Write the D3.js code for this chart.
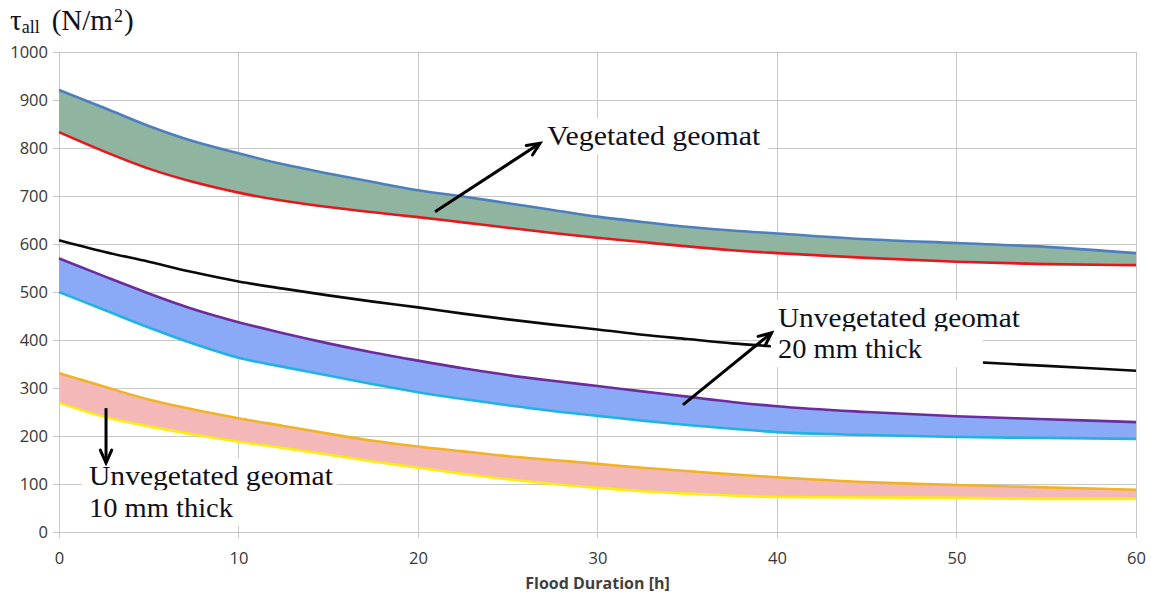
<!DOCTYPE html>
<html>
<head>
<meta charset="utf-8">
<script src="https://cdn.jsdelivr.net/npm/d3@7"></script>
<style>
	body{margin:0;background:#fff;}
	.tick-text{font-family:"Open Sans",sans-serif;font-size:16.5px;fill:#363636;}
	.axis-title{font-family:"Open Sans",sans-serif;font-size:16px;font-weight:bold;fill:#404040;}
	.note{font-family:"Liberation Serif","DejaVu Serif",serif;font-size:27px;fill:#10101a;}
	.grid{stroke:#c8c8c8;stroke-width:1;shape-rendering:crispEdges;}
</style>
</head>
<body>
<svg id="chart" width="1151" height="597"></svg>
<script>
// flood duration [h]
var hours = [0, 2.5, 5, 7.5, 10, 12.5, 15, 17.5, 20, 22.5, 25, 27.5, 30, 32.5, 35, 37.5, 40, 45, 50, 55, 60];

// vegetated geomat band
var vegUpper = [921, 884, 846, 814, 789, 766, 747, 729, 712, 699, 685, 671, 657, 646, 636, 628, 622, 610, 602, 594, 581];
var vegLower = [833, 793, 757, 729, 707, 690, 677, 666, 656, 645, 634, 623, 613, 604, 595, 587, 581, 571, 563, 558, 556];

// single black curve
var blackLine = [608, 584, 563, 541, 522, 507, 493, 480, 468, 455, 443, 432, 422, 411, 402, 393, 386, 368, 356, 346, 336];

// unvegetated geomat 20 mm band
var unveg20Upper = [570, 533, 497, 464, 437, 414, 393, 374, 357, 341, 327, 315, 304, 293, 282, 271, 262, 250, 241, 235, 229];
var unveg20Lower = [500, 463, 426, 392, 363, 344, 326, 308, 291, 277, 264, 252, 242, 232, 223, 215, 208, 202, 198, 196, 194];

// unvegetated geomat 10 mm band
var unveg10Upper = [331, 303, 276, 255, 237, 221, 205, 190, 178, 168, 158, 150, 142, 134, 127, 120, 114, 104, 98, 93, 88];
var unveg10Lower = [269, 240, 220, 203, 188, 175, 161, 147, 134, 121, 110, 100, 92, 85, 80, 76, 73, 72, 71, 69, 69];

var xTicks = [0, 10, 20, 30, 40, 50, 60];
var yTicks = [0, 100, 200, 300, 400, 500, 600, 700, 800, 900, 1000];

(function(){
	var W = 1151, H = 597;
	var margin = {top:52, right:15, bottom:65, left:59};
	var svg = d3.select('#chart');

	var x = d3.scaleLinear().domain([0, 60]).range([margin.left, W - margin.right]);
	var y = d3.scaleLinear().domain([0, 1000]).range([H - margin.bottom, margin.top]);

	// grid
	var gGrid = svg.append('g');
	yTicks.forEach(function(t){
		gGrid.append('line').attr('class', 'grid')
			.attr('x1', x(0) - 6).attr('x2', x(60)).attr('y1', y(t)).attr('y2', y(t));
	});
	xTicks.forEach(function(t){
		gGrid.append('line').attr('class', 'grid')
			.attr('x1', x(t)).attr('x2', x(t)).attr('y1', y(0) + 6).attr('y2', y(1000));
	});

	// tick labels through d3 axes, lines hidden
	var yAxis = svg.append('g').attr('transform', 'translate(' + (x(0) - 6) + ',0)')
		.call(d3.axisLeft(y).tickValues(yTicks).tickFormat(d3.format('d')).tickSize(0).tickPadding(5));
	var xAxis = svg.append('g').attr('transform', 'translate(0,' + (y(0) + 6) + ')')
		.call(d3.axisBottom(x).tickValues(xTicks).tickFormat(d3.format('d')).tickSize(0).tickPadding(14));
	[yAxis, xAxis].forEach(function(a){
		a.select('.domain').remove();
		a.attr('font-family', null).attr('font-size', null);
		a.selectAll('text').attr('class', 'tick-text').attr('fill', null);
	});

	svg.append('text').attr('class', 'axis-title')
		.attr('x', (x(0) + x(60)) / 2).attr('y', 589).attr('text-anchor', 'middle')
		.text('Flood Duration [h]');

	// y title
	var title = svg.append('text').attr('x', 10).attr('y', 30)
		.attr('font-family', '"Liberation Serif","DejaVu Serif",serif').attr('font-size', 29).attr('fill', '#10101a');
	title.append('tspan').text('τ');
	title.append('tspan').attr('font-size', 18).attr('dy', 3).text('all');
	title.append('tspan').attr('dy', -3).attr('dx', 12).text('(N/m');
	title.append('tspan').attr('font-size', 18).attr('dy', -8).attr('dx', 1).text('2');
	title.append('tspan').attr('dy', 8).attr('dx', 1).text(')');

	// bands
	var bands = [
		{upper:vegUpper, lower:vegLower, fill:'#8fb5a1'},
		{upper:unveg20Upper, lower:unveg20Lower, fill:'#8aa9f6'},
		{upper:unveg10Upper, lower:unveg10Lower, fill:'#f4b8b9'}
	];

	var area = d3.area().curve(d3.curveMonotoneX)
		.x(function(d){ return x(d[0]); })
		.y0(function(d){ return y(d[2]); })
		.y1(function(d){ return y(d[1]); });
	var line = d3.line().curve(d3.curveMonotoneX)
		.x(function(d){ return x(d[0]); })
		.y(function(d){ return y(d[1]); });

	bands.forEach(function(b){
		var pts = hours.map(function(h, i){ return [h, b.upper[i], b.lower[i]]; });
		svg.append('path').attr('d', area(pts)).attr('fill', b.fill);
	});

	var lines = [
		{vals:vegUpper, color:'#4d7ebd'},
		{vals:vegLower, color:'#e8161b'},
		{vals:blackLine, color:'#0a0a0a'},
		{vals:unveg20Upper, color:'#6a2d9a'},
		{vals:unveg20Lower, color:'#1eb4e2'},
		{vals:unveg10Upper, color:'#f1b325'},
		{vals:unveg10Lower, color:'#fbec11'}
	];
	lines.forEach(function(l){
		svg.append('path')
			.attr('d', line(hours.map(function(h, i){ return [h, l.vals[i]]; })))
			.attr('fill', 'none').attr('stroke', l.color).attr('stroke-width', 2.6);
	});

	// annotations (positions in data units)
	var notes = [
		{lines:['Vegetated geomat'], lens:[213], pads:[8], h:27.2, v:[806], arrow:[[20.95, 667], [26.8, 810]]},
		{lines:['Unvegetated geomat', '20 mm thick'], lens:[242, 144], pads:[13, 61], h:40.05, v:[427, 362], arrow:[[34.76, 265], [39.7, 415]]},
		{lines:['Unvegetated geomat', '10 mm thick'], lens:[244, 144], pads:[4, 8], h:1.67, v:[98, 31], arrow:[[2.62, 258], [2.62, 144]]}
	];

	var gNotes = svg.append('g');
	notes.forEach(function(n){
		n.lines.forEach(function(txt, i){
			var bg = gNotes.append('rect').attr('fill', '#fff');
			var t = gNotes.append('text').attr('class', 'note')
				.attr('x', x(n.h)).attr('y', y(n.v[i]))
				.attr('textLength', n.lens[i]).attr('lengthAdjust', 'spacingAndGlyphs')
				.text(txt);
			var bb = t.node().getBBox();
			bg.attr('x', bb.x - 7).attr('y', bb.y - 3).attr('width', n.lens[i] + 7 + n.pads[i]).attr('height', bb.height + 6);
		});
	});

	var gArrows = svg.append('g');
	notes.forEach(function(n){
		var a = n.arrow;
		var x1 = x(a[0][0]), y1 = y(a[0][1]), x2 = x(a[1][0]), y2 = y(a[1][1]);
		var ang = Math.atan2(y2 - y1, x2 - x1);
		var len = 14, spread = 0.42;
		gArrows.append('line').attr('x1', x1).attr('y1', y1).attr('x2', x2).attr('y2', y2)
			.attr('stroke', '#000').attr('stroke-width', 3);
		var head = [
			[x2 - len * Math.cos(ang - spread), y2 - len * Math.sin(ang - spread)],
			[x2, y2],
			[x2 - len * Math.cos(ang + spread), y2 - len * Math.sin(ang + spread)]
		];
		gArrows.append('path').attr('d', d3.line()(head))
			.attr('fill', 'none').attr('stroke', '#000').attr('stroke-width', 3)
			.attr('stroke-linejoin', 'miter').attr('stroke-linecap', 'round');
	});
})();
</script>
</body>
</html>
